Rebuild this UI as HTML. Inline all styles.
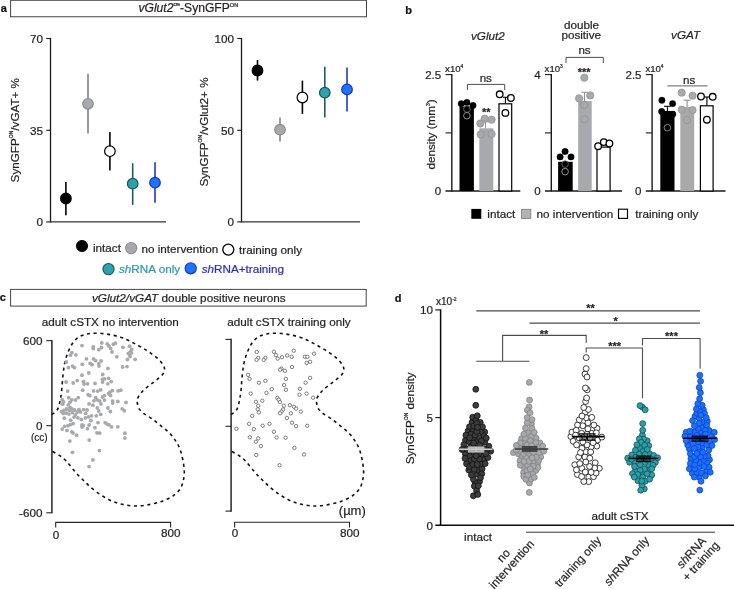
<!DOCTYPE html>
<html><head><meta charset="utf-8"><title>figure</title>
<style>
html,body{margin:0;padding:0;background:#fff;}
body{width:734px;height:589px;overflow:hidden;}
svg{display:block;font-family:"Liberation Sans",sans-serif;}
text{stroke-width:0.22px;paint-order:stroke;}
</style></head><body>
<svg width="734" height="589" viewBox="0 0 734 589">
<rect width="734" height="589" fill="#fff"/>
<g opacity="0.999">
<text x="0.80" y="11.60" font-size="11" text-anchor="start" fill="#111" stroke="#111" font-weight="bold" >a</text>
<rect x="10.60" y="0.30" width="355.90" height="16.45" fill="#fff" stroke="#444" stroke-width="1"/>
<text x="188.30" y="12.10" font-size="12.1" text-anchor="middle" fill="#231f20" stroke="#231f20" ><tspan font-style="italic">vGlut2</tspan><tspan baseline-shift="5.6" font-size="4.8">cre</tspan>-SynGFP<tspan baseline-shift="5.0" font-size="5.6">ON</tspan></text>
<line x1="50.50" y1="37.90" x2="50.50" y2="222.50" stroke="#1a1a1a" stroke-width="1.3" />
<line x1="46.20" y1="221.90" x2="166.00" y2="221.90" stroke="#333" stroke-width="1.2" />
<line x1="46.20" y1="38.50" x2="50.50" y2="38.50" stroke="#1a1a1a" stroke-width="1.1" />
<line x1="46.20" y1="130.30" x2="50.50" y2="130.30" stroke="#1a1a1a" stroke-width="1.1" />
<text x="43.00" y="42.70" font-size="11.7" text-anchor="end" fill="#231f20" stroke="#231f20" >70</text>
<text x="43.00" y="134.50" font-size="11.7" text-anchor="end" fill="#231f20" stroke="#231f20" >35</text>
<text x="43.00" y="226.10" font-size="11.7" text-anchor="end" fill="#231f20" stroke="#231f20" >0</text>
<text x="0.00" y="0.00" font-size="11.7" text-anchor="middle" fill="#231f20" stroke="#231f20" transform="translate(19.4,130.2) rotate(-90)">SynGFP<tspan baseline-shift="5.8" font-size="5.0">ON</tspan>/vGAT+ %</text>
<line x1="65.90" y1="182.00" x2="65.90" y2="215.20" stroke="#000" stroke-width="1.6" />
<circle cx="65.90" cy="198.50" r="5.3" fill="#000" stroke="#000" stroke-width="1.2"/>
<line x1="88.00" y1="73.80" x2="88.00" y2="133.50" stroke="#828282" stroke-width="1.6" />
<circle cx="88.00" cy="103.80" r="5.3" fill="#a7a9ac" stroke="#8a8c8e" stroke-width="1.2"/>
<line x1="109.90" y1="132.00" x2="109.90" y2="170.60" stroke="#000" stroke-width="1.6" />
<circle cx="109.90" cy="151.20" r="5.3" fill="#fff" stroke="#000" stroke-width="1.2"/>
<line x1="132.70" y1="163.20" x2="132.70" y2="204.90" stroke="#1f5c62" stroke-width="1.6" />
<circle cx="132.70" cy="183.70" r="5.3" fill="#2aa3ad" stroke="#1b5358" stroke-width="1.2"/>
<line x1="155.00" y1="162.30" x2="155.00" y2="202.70" stroke="#2233dd" stroke-width="1.6" />
<circle cx="155.00" cy="182.70" r="5.3" fill="#1a75ff" stroke="#1a30d0" stroke-width="1.2"/>
<line x1="241.50" y1="37.90" x2="241.50" y2="222.50" stroke="#1a1a1a" stroke-width="1.3" />
<line x1="237.20" y1="221.90" x2="360.00" y2="221.90" stroke="#333" stroke-width="1.2" />
<line x1="237.20" y1="38.50" x2="241.50" y2="38.50" stroke="#1a1a1a" stroke-width="1.1" />
<line x1="237.20" y1="130.30" x2="241.50" y2="130.30" stroke="#1a1a1a" stroke-width="1.1" />
<text x="234.00" y="42.70" font-size="11.7" text-anchor="end" fill="#231f20" stroke="#231f20" >100</text>
<text x="234.00" y="134.50" font-size="11.7" text-anchor="end" fill="#231f20" stroke="#231f20" >50</text>
<text x="234.00" y="226.10" font-size="11.7" text-anchor="end" fill="#231f20" stroke="#231f20" >0</text>
<text x="0.00" y="0.00" font-size="11.7" text-anchor="middle" fill="#231f20" stroke="#231f20" transform="translate(207.6,132) rotate(-90)">SynGFP<tspan baseline-shift="5.8" font-size="5.0">ON</tspan>/vGlut2+ %</text>
<line x1="257.50" y1="60.00" x2="257.50" y2="80.60" stroke="#000" stroke-width="1.6" />
<circle cx="257.50" cy="70.50" r="5.3" fill="#000" stroke="#000" stroke-width="1.2"/>
<line x1="280.00" y1="117.60" x2="280.00" y2="141.60" stroke="#828282" stroke-width="1.6" />
<circle cx="280.00" cy="129.70" r="5.3" fill="#a7a9ac" stroke="#8a8c8e" stroke-width="1.2"/>
<line x1="302.40" y1="80.60" x2="302.40" y2="113.90" stroke="#000" stroke-width="1.6" />
<circle cx="302.40" cy="97.50" r="5.3" fill="#fff" stroke="#000" stroke-width="1.2"/>
<line x1="324.80" y1="66.80" x2="324.80" y2="117.60" stroke="#1f5c62" stroke-width="1.6" />
<circle cx="324.80" cy="92.70" r="5.3" fill="#2aa3ad" stroke="#1b5358" stroke-width="1.2"/>
<line x1="347.00" y1="67.50" x2="347.00" y2="111.60" stroke="#2233dd" stroke-width="1.6" />
<circle cx="347.00" cy="89.40" r="5.3" fill="#1a75ff" stroke="#1a30d0" stroke-width="1.2"/>
<circle cx="82.00" cy="246.00" r="5.6" fill="#000" stroke="#000" stroke-width="0.9"/>
<text x="93.00" y="252.20" font-size="11.7" text-anchor="start" fill="#231f20" stroke="#231f20" >intact</text>
<circle cx="131.20" cy="248.10" r="5.6" fill="#a7a9ac" stroke="#8a8c8e" stroke-width="1.1"/>
<text x="141.50" y="252.70" font-size="11.7" text-anchor="start" fill="#231f20" stroke="#231f20" >no intervention</text>
<circle cx="228.30" cy="249.60" r="5.5" fill="#fff" stroke="#000" stroke-width="1.3"/>
<text x="239.00" y="253.60" font-size="11.7" text-anchor="start" fill="#231f20" stroke="#231f20" >training only</text>
<circle cx="108.50" cy="269.10" r="5.6" fill="#2aa3ad" stroke="#1b5358" stroke-width="1.1"/>
<text x="119.00" y="273.00" font-size="11.7" text-anchor="start" fill="#2b9a9e" stroke="#2b9a9e" ><tspan font-style="italic">sh</tspan>RNA only</text>
<circle cx="190.70" cy="268.30" r="5.6" fill="#1a75ff" stroke="#1a30d0" stroke-width="1.1"/>
<text x="201.70" y="272.50" font-size="11.7" text-anchor="start" fill="#2a2ec4" stroke="#2a2ec4" ><tspan font-style="italic">sh</tspan>RNA+training</text>
<text x="405.20" y="13.60" font-size="11" text-anchor="start" fill="#111" stroke="#111" font-weight="bold" >b</text>
<text x="487.90" y="40.30" font-size="11.7" text-anchor="middle" fill="#231f20" stroke="#231f20" font-style="italic" >vGlut2</text>
<text x="581.50" y="28.80" font-size="11.7" text-anchor="middle" fill="#231f20" stroke="#231f20" >double</text>
<text x="581.20" y="39.40" font-size="11.7" text-anchor="middle" fill="#231f20" stroke="#231f20" >positive</text>
<text x="685.60" y="39.20" font-size="11.7" text-anchor="middle" fill="#231f20" stroke="#231f20" font-style="italic" >vGAT</text>
<line x1="451.80" y1="74.00" x2="451.80" y2="191.60" stroke="#1a1a1a" stroke-width="1.4" />
<line x1="445.50" y1="191.00" x2="520.30" y2="191.00" stroke="#1a1a1a" stroke-width="1.4" />
<line x1="445.50" y1="74.60" x2="451.80" y2="74.60" stroke="#1a1a1a" stroke-width="1.1" />
<line x1="445.50" y1="132.90" x2="451.80" y2="132.90" stroke="#1a1a1a" stroke-width="1.1" />
<text x="441.20" y="78.90" font-size="11.5" text-anchor="end" fill="#231f20" stroke="#231f20" >2.5</text>
<text x="441.20" y="195.20" font-size="11.5" text-anchor="end" fill="#231f20" stroke="#231f20" >0</text>
<text x="445.10" y="71.50" font-size="9.6" text-anchor="start" fill="#231f20" stroke="#231f20" >x10<tspan baseline-shift="3.6" font-size="4.8">4</tspan></text>
<text x="0.00" y="0.00" font-size="11.7" text-anchor="middle" fill="#231f20" stroke="#231f20" transform="translate(434.6,134.4) rotate(-90)">density (mm<tspan baseline-shift="5.4" font-size="5">3</tspan>)</text>
<rect x="459.50" y="106.80" width="14.40" height="84.20" fill="#000" stroke="none" stroke-width="0"/>
<line x1="466.90" y1="104.50" x2="466.90" y2="107.00" stroke="#000" stroke-width="1" />
<line x1="464.30" y1="104.50" x2="469.50" y2="104.50" stroke="#000" stroke-width="1" />
<rect x="479.30" y="128.30" width="14.00" height="62.70" fill="#a7a9ac" stroke="none" stroke-width="0"/>
<line x1="485.50" y1="121.80" x2="485.50" y2="128.30" stroke="#8e9092" stroke-width="1" />
<line x1="482.90" y1="121.80" x2="488.10" y2="121.80" stroke="#8e9092" stroke-width="1" />
<rect x="499.00" y="103.80" width="12.70" height="87.20" fill="#fff" stroke="#000" stroke-width="1.2"/>
<line x1="505.40" y1="97.30" x2="505.40" y2="103.40" stroke="#000" stroke-width="1.1" />
<line x1="503.00" y1="97.30" x2="507.80" y2="97.30" stroke="#000" stroke-width="1.1" />
<circle cx="461.30" cy="103.80" r="3.2" fill="#000" stroke="#000" stroke-width="0.4"/>
<circle cx="466.90" cy="102.40" r="3.2" fill="#000" stroke="#000" stroke-width="0.4"/>
<circle cx="473.00" cy="105.50" r="3.2" fill="#000" stroke="#000" stroke-width="0.4"/>
<circle cx="466.90" cy="109.10" r="3.3000000000000003" fill="#000" stroke="#888" stroke-width="0.7"/>
<circle cx="466.90" cy="115.70" r="3.3000000000000003" fill="#000" stroke="#ccc" stroke-width="0.7"/>
<circle cx="484.80" cy="118.60" r="3.65" fill="#a7a9ac" stroke="#8e9092" stroke-width="0.7"/>
<circle cx="491.60" cy="119.70" r="3.65" fill="#a7a9ac" stroke="#8e9092" stroke-width="0.7"/>
<circle cx="480.30" cy="123.50" r="3.65" fill="#a7a9ac" stroke="#8e9092" stroke-width="0.7"/>
<circle cx="480.70" cy="134.40" r="3.65" fill="#a7a9ac" stroke="#8e9092" stroke-width="0.7"/>
<circle cx="491.60" cy="134.00" r="3.65" fill="#a7a9ac" stroke="#8e9092" stroke-width="0.7"/>
<circle cx="499.70" cy="94.30" r="3.3" fill="#fff" stroke="#000" stroke-width="1.3"/>
<circle cx="510.90" cy="98.00" r="3.3" fill="#fff" stroke="#000" stroke-width="1.3"/>
<circle cx="505.40" cy="112.90" r="3.3" fill="#fff" stroke="#000" stroke-width="1.3"/>
<path d="M467.4 90.1V84.4H504.7V90.1" fill="none" stroke="#4d4d4d" stroke-width="1"/>
<text x="485.80" y="81.70" font-size="11.6" text-anchor="middle" fill="#231f20" stroke="#231f20" >ns</text>
<text x="486.20" y="115.80" font-size="11" text-anchor="middle" fill="#231f20" stroke="#231f20" font-weight="bold" >**</text>
<line x1="551.30" y1="74.00" x2="551.30" y2="191.60" stroke="#1a1a1a" stroke-width="1.4" />
<line x1="545.00" y1="191.00" x2="622.00" y2="191.00" stroke="#1a1a1a" stroke-width="1.4" />
<line x1="545.00" y1="74.60" x2="551.30" y2="74.60" stroke="#1a1a1a" stroke-width="1.1" />
<line x1="545.00" y1="132.90" x2="551.30" y2="132.90" stroke="#1a1a1a" stroke-width="1.1" />
<text x="540.70" y="78.90" font-size="11.5" text-anchor="end" fill="#231f20" stroke="#231f20" >4</text>
<text x="540.70" y="195.20" font-size="11.5" text-anchor="end" fill="#231f20" stroke="#231f20" >0</text>
<text x="544.60" y="71.50" font-size="9.6" text-anchor="start" fill="#231f20" stroke="#231f20" >x10<tspan baseline-shift="3.6" font-size="4.8">3</tspan></text>
<rect x="558.10" y="161.80" width="14.60" height="29.20" fill="#000" stroke="none" stroke-width="0"/>
<line x1="565.10" y1="156.80" x2="565.10" y2="161.80" stroke="#ddd" stroke-width="0.8" />
<line x1="562.70" y1="156.80" x2="567.50" y2="156.80" stroke="#ddd" stroke-width="0.8" />
<rect x="578.20" y="101.10" width="13.50" height="89.90" fill="#a7a9ac" stroke="none" stroke-width="0"/>
<line x1="584.50" y1="92.30" x2="584.50" y2="101.10" stroke="#8e9092" stroke-width="1" />
<line x1="581.30" y1="92.30" x2="587.70" y2="92.30" stroke="#8e9092" stroke-width="1" />
<rect x="597.00" y="147.10" width="13.10" height="43.90" fill="#fff" stroke="#000" stroke-width="1.2"/>
<circle cx="565.10" cy="151.50" r="3.2" fill="#000" stroke="#000" stroke-width="0.4"/>
<circle cx="560.10" cy="156.90" r="3.2" fill="#000" stroke="#000" stroke-width="0.4"/>
<circle cx="571.00" cy="156.90" r="3.2" fill="#000" stroke="#000" stroke-width="0.4"/>
<circle cx="565.10" cy="164.10" r="3.3000000000000003" fill="#000" stroke="#777" stroke-width="0.7"/>
<circle cx="565.10" cy="171.60" r="3.3000000000000003" fill="#000" stroke="#ccc" stroke-width="0.7"/>
<circle cx="584.30" cy="77.70" r="3.65" fill="#a7a9ac" stroke="#8e9092" stroke-width="0.7"/>
<circle cx="579.10" cy="98.40" r="3.65" fill="#a7a9ac" stroke="#8e9092" stroke-width="0.7"/>
<circle cx="590.20" cy="95.40" r="3.65" fill="#a7a9ac" stroke="#8e9092" stroke-width="0.7"/>
<circle cx="584.10" cy="104.90" r="3.65" fill="#a7a9ac" stroke="#8e9092" stroke-width="0.7"/>
<circle cx="584.50" cy="119.40" r="3.65" fill="#a7a9ac" stroke="#8e9092" stroke-width="0.7"/>
<circle cx="598.10" cy="146.20" r="3.3" fill="#fff" stroke="#000" stroke-width="1.3"/>
<circle cx="603.80" cy="142.10" r="3.3" fill="#fff" stroke="#000" stroke-width="1.3"/>
<circle cx="609.40" cy="143.50" r="3.3" fill="#fff" stroke="#000" stroke-width="1.3"/>
<path d="M566 63V57.4H603.3V63" fill="none" stroke="#4d4d4d" stroke-width="1"/>
<text x="584.50" y="54.30" font-size="11.6" text-anchor="middle" fill="#231f20" stroke="#231f20" >ns</text>
<text x="584.20" y="75.60" font-size="11" text-anchor="middle" fill="#231f20" stroke="#231f20" font-weight="bold" >***</text>
<line x1="652.10" y1="74.00" x2="652.10" y2="191.60" stroke="#1a1a1a" stroke-width="1.4" />
<line x1="645.80" y1="191.00" x2="725.50" y2="191.00" stroke="#1a1a1a" stroke-width="1.4" />
<line x1="645.80" y1="74.60" x2="652.10" y2="74.60" stroke="#1a1a1a" stroke-width="1.1" />
<line x1="645.80" y1="132.90" x2="652.10" y2="132.90" stroke="#1a1a1a" stroke-width="1.1" />
<text x="641.50" y="78.90" font-size="11.5" text-anchor="end" fill="#231f20" stroke="#231f20" >2.5</text>
<text x="641.50" y="195.20" font-size="11.5" text-anchor="end" fill="#231f20" stroke="#231f20" >0</text>
<text x="645.40" y="71.50" font-size="9.6" text-anchor="start" fill="#231f20" stroke="#231f20" >x10<tspan baseline-shift="3.6" font-size="4.8">4</tspan></text>
<rect x="660.30" y="111.00" width="14.20" height="80.00" fill="#000" stroke="none" stroke-width="0"/>
<line x1="667.40" y1="106.30" x2="667.40" y2="111.00" stroke="#000" stroke-width="1.1" />
<line x1="664.00" y1="106.30" x2="670.80" y2="106.30" stroke="#000" stroke-width="1.1" />
<rect x="680.30" y="107.00" width="13.90" height="84.00" fill="#a7a9ac" stroke="none" stroke-width="0"/>
<line x1="687.10" y1="100.20" x2="687.10" y2="107.00" stroke="#8e9092" stroke-width="1.1" />
<line x1="683.50" y1="100.20" x2="690.70" y2="100.20" stroke="#8e9092" stroke-width="1.1" />
<rect x="700.40" y="105.80" width="12.70" height="85.20" fill="#fff" stroke="#000" stroke-width="1.2"/>
<line x1="706.90" y1="97.00" x2="706.90" y2="105.40" stroke="#000" stroke-width="1.1" />
<line x1="704.50" y1="97.00" x2="709.30" y2="97.00" stroke="#000" stroke-width="1.1" />
<circle cx="661.90" cy="100.20" r="3.2" fill="#000" stroke="#000" stroke-width="0.4"/>
<circle cx="672.60" cy="103.60" r="3.2" fill="#000" stroke="#000" stroke-width="0.4"/>
<circle cx="661.70" cy="111.50" r="3.2" fill="#000" stroke="#000" stroke-width="0.4"/>
<circle cx="672.80" cy="114.20" r="3.2" fill="#000" stroke="#000" stroke-width="0.4"/>
<circle cx="667.40" cy="127.70" r="3.3000000000000003" fill="#000" stroke="#bbb" stroke-width="0.7"/>
<circle cx="681.70" cy="92.70" r="3.65" fill="#a7a9ac" stroke="#8e9092" stroke-width="0.7"/>
<circle cx="692.60" cy="95.70" r="3.65" fill="#a7a9ac" stroke="#8e9092" stroke-width="0.7"/>
<circle cx="681.70" cy="109.70" r="3.65" fill="#a7a9ac" stroke="#8e9092" stroke-width="0.7"/>
<circle cx="692.60" cy="110.10" r="3.65" fill="#a7a9ac" stroke="#8e9092" stroke-width="0.7"/>
<circle cx="687.10" cy="120.00" r="3.65" fill="#a7a9ac" stroke="#8e9092" stroke-width="0.7"/>
<circle cx="701.00" cy="96.50" r="3.3" fill="#fff" stroke="#000" stroke-width="1.3"/>
<circle cx="712.70" cy="96.80" r="3.3" fill="#fff" stroke="#000" stroke-width="1.3"/>
<circle cx="706.90" cy="119.70" r="3.3" fill="#fff" stroke="#000" stroke-width="1.3"/>
<line x1="667.40" y1="85.90" x2="707.60" y2="85.90" stroke="#808080" stroke-width="1.2" />
<text x="689.10" y="83.80" font-size="11.6" text-anchor="middle" fill="#231f20" stroke="#231f20" >ns</text>
<rect x="471.30" y="208.90" width="10.00" height="9.90" fill="#000" stroke="none" stroke-width="0"/>
<text x="487.30" y="217.80" font-size="11.7" text-anchor="start" fill="#231f20" stroke="#231f20" >intact</text>
<rect x="521.60" y="209.30" width="9.20" height="9.20" fill="#b1b2b5" stroke="#7a7b7d" stroke-width="0.8"/>
<text x="536.60" y="217.80" font-size="11.7" text-anchor="start" fill="#231f20" stroke="#231f20" >no intervention</text>
<rect x="618.50" y="209.20" width="9.00" height="9.20" fill="#fff" stroke="#000" stroke-width="1.15"/>
<text x="635.30" y="217.80" font-size="11.7" text-anchor="start" fill="#231f20" stroke="#231f20" >training only</text>
<text x="-0.20" y="301.00" font-size="11" text-anchor="start" fill="#111" stroke="#111" font-weight="bold" >c</text>
<rect x="10.60" y="289.40" width="355.60" height="16.70" fill="#fff" stroke="#444" stroke-width="1"/>
<text x="188.80" y="301.60" font-size="11.75" text-anchor="middle" fill="#231f20" stroke="#231f20" ><tspan font-style="italic">vGlut2/vGAT</tspan> double positive neurons</text>
<text x="110.30" y="326.00" font-size="11.7" text-anchor="middle" fill="#231f20" stroke="#231f20" >adult cSTX no intervention</text>
<text x="289.00" y="326.00" font-size="11.7" text-anchor="middle" fill="#231f20" stroke="#231f20" >adult cSTX training only</text>
<line x1="51.90" y1="340.10" x2="51.90" y2="513.35" stroke="#262626" stroke-width="1.5" />
<line x1="46.30" y1="340.65" x2="51.90" y2="340.65" stroke="#262626" stroke-width="1.1" />
<line x1="46.30" y1="425.70" x2="51.90" y2="425.70" stroke="#262626" stroke-width="1.1" />
<line x1="46.30" y1="512.80" x2="51.90" y2="512.80" stroke="#262626" stroke-width="1.1" />
<line x1="231.10" y1="338.85" x2="231.10" y2="511.65" stroke="#262626" stroke-width="1.5" />
<line x1="225.50" y1="339.40" x2="231.10" y2="339.40" stroke="#262626" stroke-width="1.1" />
<line x1="225.50" y1="426.30" x2="231.10" y2="426.30" stroke="#262626" stroke-width="1.1" />
<line x1="225.50" y1="511.10" x2="231.10" y2="511.10" stroke="#262626" stroke-width="1.1" />
<text x="42.50" y="345.30" font-size="11.7" text-anchor="end" fill="#231f20" stroke="#231f20" >600</text>
<text x="42.50" y="430.00" font-size="11.7" text-anchor="end" fill="#231f20" stroke="#231f20" >0</text>
<text x="47.70" y="440.70" font-size="10" text-anchor="end" fill="#231f20" stroke="#231f20" >(cc)</text>
<text x="42.50" y="516.80" font-size="11.7" text-anchor="end" fill="#231f20" stroke="#231f20" >-600</text>
<path d="M55.7 527.6V522.4H170.6V527.6" fill="none" stroke="#262626" stroke-width="1.1"/>
<text x="56.00" y="539.40" font-size="11.7" text-anchor="middle" fill="#231f20" stroke="#231f20" >0</text>
<text x="170.80" y="537.30" font-size="11.7" text-anchor="middle" fill="#231f20" stroke="#231f20" >800</text>
<path d="M234.6 527.6V522.3H349.5V527.6" fill="none" stroke="#262626" stroke-width="1.1"/>
<text x="234.90" y="537.20" font-size="11.7" text-anchor="middle" fill="#231f20" stroke="#231f20" >0</text>
<text x="349.70" y="537.40" font-size="11.7" text-anchor="middle" fill="#231f20" stroke="#231f20" >800</text>
<text x="352.30" y="515.30" font-size="13" text-anchor="middle" fill="#231f20" stroke="#231f20" >(µm)</text>
<path d="M51.8 414.6C52.8 413.8 56.1 411.9 57.5 409.5C58.9 407.1 59.5 403.7 60.2 400.4C60.9 397.1 61.3 393.6 61.8 389.5C62.2 385.4 62.4 380.1 62.9 375.9C63.4 371.6 63.8 367.6 64.5 364.0C65.2 360.4 66.0 357.8 67.2 354.5C68.4 351.2 69.9 347.4 71.8 344.5C73.7 341.6 75.9 339.1 78.5 337.3C81.1 335.6 83.9 334.7 87.2 334.0C90.5 333.3 94.3 333.1 98.1 333.2C101.9 333.3 106.2 333.9 110.0 334.6C113.8 335.3 118.2 336.5 121.2 337.4C124.2 338.3 125.6 339.2 127.7 340.1C129.8 341.1 131.8 342.1 133.7 343.1C135.6 344.1 137.1 344.9 139.0 346.0C140.9 347.1 143.1 348.2 145.0 349.4C146.9 350.5 148.4 351.6 150.3 352.9C152.2 354.2 154.5 355.8 156.3 357.3C158.1 358.8 159.7 360.3 161.0 361.9C162.3 363.5 163.4 365.4 164.0 366.8C164.6 368.2 164.7 368.9 164.5 370.2C164.3 371.5 163.7 373.0 162.6 374.4C161.5 375.8 159.7 377.3 158.0 378.7C156.3 380.1 154.5 381.5 152.7 382.9C150.9 384.3 149.0 385.6 147.3 387.0C145.6 388.4 144.0 389.7 142.6 391.2C141.2 392.7 139.7 394.5 138.8 396.0C137.9 397.5 137.4 398.8 137.2 400.0C137.0 401.2 137.2 402.1 137.4 403.5C137.7 404.9 137.7 406.6 138.7 408.2C139.7 409.8 141.2 411.4 143.6 413.3C145.9 415.2 149.8 417.2 152.8 419.4C155.9 421.6 159.0 424.2 161.9 426.6C164.8 429.0 167.7 431.2 170.1 433.7C172.5 436.2 174.5 439.1 176.2 441.8C177.9 444.5 179.2 446.9 180.3 450.0C181.4 453.1 182.2 456.6 182.9 460.2C183.6 463.8 184.2 468.0 184.3 471.4C184.4 474.8 184.0 477.6 183.3 480.5C182.6 483.4 182.0 486.1 180.3 488.7C178.6 491.2 176.0 493.8 173.1 495.8C170.2 497.8 166.6 499.5 162.9 500.9C159.2 502.3 155.1 503.4 150.7 504.3C146.3 505.2 141.2 506.0 136.5 506.0C131.8 506.0 126.8 505.4 122.2 504.3C117.6 503.2 113.5 501.9 109.0 499.7C104.5 497.5 99.5 494.0 95.4 491.0C91.3 488.0 87.9 484.7 84.5 481.5C81.1 478.3 78.2 475.2 75.2 471.8C72.2 468.4 68.7 463.7 66.3 461.1C63.9 458.6 62.8 457.9 60.9 456.5C59.0 455.1 56.3 453.6 54.8 452.7C53.3 451.8 52.3 451.5 51.8 451.3" fill="none" stroke="#111" stroke-width="1.6" stroke-dasharray="3.1 3.6"/>
<path d="M51.8 414.6C52.8 413.8 56.1 411.9 57.5 409.5C58.9 407.1 59.5 403.7 60.2 400.4C60.9 397.1 61.3 393.6 61.8 389.5C62.2 385.4 62.4 380.1 62.9 375.9C63.4 371.6 63.8 367.6 64.5 364.0C65.2 360.4 66.0 357.8 67.2 354.5C68.4 351.2 69.9 347.4 71.8 344.5C73.7 341.6 75.9 339.1 78.5 337.3C81.1 335.6 83.9 334.7 87.2 334.0C90.5 333.3 94.3 333.1 98.1 333.2C101.9 333.3 106.2 333.9 110.0 334.6C113.8 335.3 118.2 336.5 121.2 337.4C124.2 338.3 125.6 339.2 127.7 340.1C129.8 341.1 131.8 342.1 133.7 343.1C135.6 344.1 137.1 344.9 139.0 346.0C140.9 347.1 143.1 348.2 145.0 349.4C146.9 350.5 148.4 351.6 150.3 352.9C152.2 354.2 154.5 355.8 156.3 357.3C158.1 358.8 159.7 360.3 161.0 361.9C162.3 363.5 163.4 365.4 164.0 366.8C164.6 368.2 164.7 368.9 164.5 370.2C164.3 371.5 163.7 373.0 162.6 374.4C161.5 375.8 159.7 377.3 158.0 378.7C156.3 380.1 154.5 381.5 152.7 382.9C150.9 384.3 149.0 385.6 147.3 387.0C145.6 388.4 144.0 389.7 142.6 391.2C141.2 392.7 139.7 394.5 138.8 396.0C137.9 397.5 137.4 398.8 137.2 400.0C137.0 401.2 137.2 402.1 137.4 403.5C137.7 404.9 137.7 406.6 138.7 408.2C139.7 409.8 141.2 411.4 143.6 413.3C145.9 415.2 149.8 417.2 152.8 419.4C155.9 421.6 159.0 424.2 161.9 426.6C164.8 429.0 167.7 431.2 170.1 433.7C172.5 436.2 174.5 439.1 176.2 441.8C177.9 444.5 179.2 446.9 180.3 450.0C181.4 453.1 182.2 456.6 182.9 460.2C183.6 463.8 184.2 468.0 184.3 471.4C184.4 474.8 184.0 477.6 183.3 480.5C182.6 483.4 182.0 486.1 180.3 488.7C178.6 491.2 176.0 493.8 173.1 495.8C170.2 497.8 166.6 499.5 162.9 500.9C159.2 502.3 155.1 503.4 150.7 504.3C146.3 505.2 141.2 506.0 136.5 506.0C131.8 506.0 126.8 505.4 122.2 504.3C117.6 503.2 113.5 501.9 109.0 499.7C104.5 497.5 99.5 494.0 95.4 491.0C91.3 488.0 87.9 484.7 84.5 481.5C81.1 478.3 78.2 475.2 75.2 471.8C72.2 468.4 68.7 463.7 66.3 461.1C63.9 458.6 62.8 457.9 60.9 456.5C59.0 455.1 56.3 453.6 54.8 452.7C53.3 451.8 52.3 451.5 51.8 451.3" transform="translate(179.3,0)" fill="none" stroke="#111" stroke-width="1.6" stroke-dasharray="3.1 3.6"/>
<g fill="#a7a9ac">
<circle cx="82.0" cy="345.6" r="1.9"/>
<circle cx="93.3" cy="347.0" r="1.9"/>
<circle cx="93.3" cy="348.6" r="1.9"/>
<circle cx="101.8" cy="342.9" r="1.9"/>
<circle cx="101.5" cy="347.5" r="1.9"/>
<circle cx="98.8" cy="349.7" r="1.9"/>
<circle cx="107.2" cy="343.9" r="1.9"/>
<circle cx="108.9" cy="345.9" r="1.9"/>
<circle cx="110.6" cy="348.4" r="1.9"/>
<circle cx="112" cy="352" r="1.9"/>
<circle cx="113.4" cy="344.3" r="1.9"/>
<circle cx="115.4" cy="343.2" r="1.9"/>
<circle cx="122.9" cy="347.3" r="1.9"/>
<circle cx="129.7" cy="346.2" r="1.9"/>
<circle cx="131.7" cy="349.3" r="1.9"/>
<circle cx="130.4" cy="352" r="1.9"/>
<circle cx="129" cy="354.1" r="1.9"/>
<circle cx="130.1" cy="356.5" r="1.9"/>
<circle cx="127.4" cy="359.5" r="1.9"/>
<circle cx="135.1" cy="359.3" r="1.9"/>
<circle cx="116.8" cy="356.8" r="1.9"/>
<circle cx="71.8" cy="352.7" r="1.9"/>
<circle cx="70.4" cy="355.2" r="1.9"/>
<circle cx="75.9" cy="354.8" r="1.9"/>
<circle cx="86.5" cy="358.8" r="1.9"/>
<circle cx="93.6" cy="358.8" r="1.9"/>
<circle cx="95.6" cy="360.6" r="1.9"/>
<circle cx="101.1" cy="360.9" r="1.9"/>
<circle cx="98.8" cy="363.6" r="1.9"/>
<circle cx="99" cy="366.1" r="1.9"/>
<circle cx="90.2" cy="363.3" r="1.9"/>
<circle cx="92" cy="364.7" r="1.9"/>
<circle cx="82.3" cy="364.3" r="1.9"/>
<circle cx="66.3" cy="362" r="1.9"/>
<circle cx="68.4" cy="367.7" r="1.9"/>
<circle cx="72.5" cy="366.1" r="1.9"/>
<circle cx="74.5" cy="367.7" r="1.9"/>
<circle cx="107.9" cy="368.4" r="1.9"/>
<circle cx="122.6" cy="367" r="1.9"/>
<circle cx="127" cy="366.6" r="1.9"/>
<circle cx="88.8" cy="372.9" r="1.9"/>
<circle cx="82" cy="375.2" r="1.9"/>
<circle cx="102.7" cy="374.5" r="1.9"/>
<circle cx="102.5" cy="379.3" r="1.9"/>
<circle cx="104.5" cy="378.9" r="1.9"/>
<circle cx="108.6" cy="378.3" r="1.9"/>
<circle cx="102.5" cy="382" r="1.9"/>
<circle cx="111.3" cy="381.6" r="1.9"/>
<circle cx="107.9" cy="383.8" r="1.9"/>
<circle cx="66.1" cy="382" r="1.9"/>
<circle cx="73.2" cy="383" r="1.9"/>
<circle cx="77.2" cy="380.6" r="1.9"/>
<circle cx="83.4" cy="381.6" r="1.9"/>
<circle cx="84.1" cy="384" r="1.9"/>
<circle cx="87.5" cy="383.8" r="1.9"/>
<circle cx="95" cy="383.4" r="1.9"/>
<circle cx="67.7" cy="391.1" r="1.9"/>
<circle cx="82.7" cy="390.2" r="1.9"/>
<circle cx="93.6" cy="390.9" r="1.9"/>
<circle cx="97.7" cy="391.1" r="1.9"/>
<circle cx="100.7" cy="389.9" r="1.9"/>
<circle cx="112.4" cy="390.6" r="1.9"/>
<circle cx="109.9" cy="392.2" r="1.9"/>
<circle cx="108.6" cy="393.6" r="1.9"/>
<circle cx="110.6" cy="395.6" r="1.9"/>
<circle cx="118.1" cy="390.9" r="1.9"/>
<circle cx="120.8" cy="390.2" r="1.9"/>
<circle cx="88.1" cy="394.7" r="1.9"/>
<circle cx="104.5" cy="395.6" r="1.9"/>
<circle cx="102.5" cy="397" r="1.9"/>
<circle cx="104.5" cy="400.1" r="1.9"/>
<circle cx="112.7" cy="401.1" r="1.9"/>
<circle cx="112.7" cy="403.1" r="1.9"/>
<circle cx="117.8" cy="401.5" r="1.9"/>
<circle cx="126" cy="402.4" r="1.9"/>
<circle cx="107.9" cy="408" r="1.9"/>
<circle cx="110.4" cy="411.5" r="1.9"/>
<circle cx="122.2" cy="408.8" r="1.9"/>
<circle cx="124.3" cy="410.7" r="1.9"/>
<circle cx="105.2" cy="422.7" r="1.9"/>
<circle cx="107.2" cy="424.1" r="1.9"/>
<circle cx="108.9" cy="424.8" r="1.9"/>
<circle cx="111.6" cy="426.8" r="1.9"/>
<circle cx="117.8" cy="426.8" r="1.9"/>
<circle cx="76.6" cy="435.2" r="1.9"/>
<circle cx="124.9" cy="433.2" r="1.9"/>
<circle cx="124.9" cy="438.1" r="1.9"/>
<circle cx="69.8" cy="441.1" r="1.9"/>
<circle cx="89.2" cy="440.1" r="1.9"/>
<circle cx="72.5" cy="452.3" r="1.9"/>
<circle cx="99.5" cy="450.6" r="1.9"/>
<circle cx="92.9" cy="459.9" r="1.9"/>
<circle cx="89.1" cy="466.6" r="1.9"/>
<circle cx="62.2" cy="399.8" r="1.9"/>
<circle cx="63.6" cy="401.8" r="1.9"/>
<circle cx="62.6" cy="404.2" r="1.9"/>
<circle cx="68.7" cy="397.7" r="1.9"/>
<circle cx="71.8" cy="399.8" r="1.9"/>
<circle cx="75.5" cy="400.1" r="1.9"/>
<circle cx="78.2" cy="397.7" r="1.9"/>
<circle cx="70.1" cy="402.2" r="1.9"/>
<circle cx="68.3" cy="404.9" r="1.9"/>
<circle cx="70.1" cy="407.3" r="1.9"/>
<circle cx="61.5" cy="411.7" r="1.9"/>
<circle cx="63.9" cy="410.3" r="1.9"/>
<circle cx="66.6" cy="409.0" r="1.9"/>
<circle cx="69.4" cy="410.3" r="1.9"/>
<circle cx="71.8" cy="409.0" r="1.9"/>
<circle cx="74.5" cy="410.0" r="1.9"/>
<circle cx="77.2" cy="412.0" r="1.9"/>
<circle cx="78.9" cy="409.6" r="1.9"/>
<circle cx="80.6" cy="412.0" r="1.9"/>
<circle cx="83.7" cy="409.6" r="1.9"/>
<circle cx="87.1" cy="410.0" r="1.9"/>
<circle cx="63.2" cy="413.4" r="1.9"/>
<circle cx="66.3" cy="413.1" r="1.9"/>
<circle cx="69.0" cy="414.1" r="1.9"/>
<circle cx="72.4" cy="412.7" r="1.9"/>
<circle cx="75.5" cy="414.8" r="1.9"/>
<circle cx="85.7" cy="413.4" r="1.9"/>
<circle cx="64.3" cy="418.2" r="1.9"/>
<circle cx="74.1" cy="417.1" r="1.9"/>
<circle cx="77.9" cy="417.8" r="1.9"/>
<circle cx="81.3" cy="419.5" r="1.9"/>
<circle cx="70.7" cy="420.2" r="1.9"/>
<circle cx="85.4" cy="417.8" r="1.9"/>
<circle cx="88.4" cy="416.8" r="1.9"/>
<circle cx="91.5" cy="415.8" r="1.9"/>
<circle cx="96.3" cy="415.8" r="1.9"/>
<circle cx="100.7" cy="414.4" r="1.9"/>
<circle cx="90.8" cy="420.5" r="1.9"/>
<circle cx="73.1" cy="423.6" r="1.9"/>
<circle cx="70.4" cy="424.6" r="1.9"/>
<circle cx="68.0" cy="425.7" r="1.9"/>
<circle cx="64.6" cy="426.3" r="1.9"/>
<circle cx="62.2" cy="429.1" r="1.9"/>
<circle cx="67.0" cy="430.4" r="1.9"/>
<circle cx="71.8" cy="431.8" r="1.9"/>
<circle cx="73.1" cy="433.1" r="1.9"/>
<circle cx="82.0" cy="425.0" r="1.9"/>
<circle cx="83.3" cy="425.7" r="1.9"/>
<circle cx="82.0" cy="427.0" r="1.9"/>
<circle cx="89.1" cy="425.0" r="1.9"/>
<circle cx="87.4" cy="428.7" r="1.9"/>
<circle cx="94.9" cy="427.7" r="1.9"/>
<circle cx="98.0" cy="422.6" r="1.9"/>
<circle cx="89.1" cy="403.9" r="1.9"/>
<circle cx="92.9" cy="405.2" r="1.9"/>
<circle cx="89.8" cy="395.7" r="1.9"/>
<circle cx="95.6" cy="397.7" r="1.9"/>
<circle cx="93.9" cy="400.8" r="1.9"/>
<circle cx="97.3" cy="399.8" r="1.9"/>
<circle cx="99.7" cy="401.1" r="1.9"/>
<circle cx="101.0" cy="403.9" r="1.9"/>
<circle cx="97.3" cy="407.9" r="1.9"/>
<circle cx="98.7" cy="411.0" r="1.9"/>
<circle cx="97.0" cy="432.8" r="1.9"/>
<circle cx="99.7" cy="433.1" r="1.9"/>
<circle cx="131.5" cy="352.9" r="1.9"/>
<circle cx="128.4" cy="353.3" r="1.9"/>
</g>
<g fill="#fff" stroke="#3a3a3a" stroke-width="0.65">
<circle cx="256.8" cy="352" r="1.7"/>
<circle cx="258.2" cy="357.9" r="1.7"/>
<circle cx="256.6" cy="359.8" r="1.7"/>
<circle cx="265.4" cy="357.9" r="1.7"/>
<circle cx="263.7" cy="359.9" r="1.7"/>
<circle cx="273.9" cy="351.8" r="1.7"/>
<circle cx="275.9" cy="355.2" r="1.7"/>
<circle cx="277.7" cy="358.6" r="1.7"/>
<circle cx="282" cy="357.2" r="1.7"/>
<circle cx="287.2" cy="355.4" r="1.7"/>
<circle cx="291.7" cy="356.8" r="1.7"/>
<circle cx="293.8" cy="350.7" r="1.7"/>
<circle cx="304.9" cy="356.8" r="1.7"/>
<circle cx="307.4" cy="356.8" r="1.7"/>
<circle cx="314.1" cy="353.7" r="1.7"/>
<circle cx="306.7" cy="362.9" r="1.7"/>
<circle cx="310.1" cy="361.8" r="1.7"/>
<circle cx="292" cy="367" r="1.7"/>
<circle cx="281.5" cy="368.7" r="1.7"/>
<circle cx="280.1" cy="369.7" r="1.7"/>
<circle cx="284.9" cy="370.8" r="1.7"/>
<circle cx="248.1" cy="374.9" r="1.7"/>
<circle cx="249.5" cy="378.9" r="1.7"/>
<circle cx="258.9" cy="382.7" r="1.7"/>
<circle cx="265.4" cy="380.9" r="1.7"/>
<circle cx="285.9" cy="378.9" r="1.7"/>
<circle cx="284.1" cy="385.1" r="1.7"/>
<circle cx="285.9" cy="389.8" r="1.7"/>
<circle cx="271.8" cy="389.2" r="1.7"/>
<circle cx="266.5" cy="392.9" r="1.7"/>
<circle cx="250.7" cy="393.6" r="1.7"/>
<circle cx="310.1" cy="377.9" r="1.7"/>
<circle cx="305.6" cy="382.7" r="1.7"/>
<circle cx="299.9" cy="388.8" r="1.7"/>
<circle cx="299.5" cy="394.7" r="1.7"/>
<circle cx="306.6" cy="393.6" r="1.7"/>
<circle cx="313.1" cy="397.7" r="1.7"/>
<circle cx="277.3" cy="397.9" r="1.7"/>
<circle cx="278.8" cy="399.7" r="1.7"/>
<circle cx="280" cy="402.2" r="1.7"/>
<circle cx="262.3" cy="400.7" r="1.7"/>
<circle cx="255.9" cy="401.8" r="1.7"/>
<circle cx="258.2" cy="405.8" r="1.7"/>
<circle cx="257.7" cy="409.3" r="1.7"/>
<circle cx="258.9" cy="412.4" r="1.7"/>
<circle cx="283.8" cy="405.8" r="1.7"/>
<circle cx="283.1" cy="409.5" r="1.7"/>
<circle cx="281.5" cy="411.6" r="1.7"/>
<circle cx="280.1" cy="413.3" r="1.7"/>
<circle cx="289.9" cy="405.2" r="1.7"/>
<circle cx="294" cy="406.8" r="1.7"/>
<circle cx="296.1" cy="408.6" r="1.7"/>
<circle cx="300.8" cy="411.6" r="1.7"/>
<circle cx="290.9" cy="413.3" r="1.7"/>
<circle cx="252.2" cy="415.9" r="1.7"/>
<circle cx="286.9" cy="417.9" r="1.7"/>
<circle cx="249.1" cy="423.8" r="1.7"/>
<circle cx="262.7" cy="425.7" r="1.7"/>
<circle cx="269.5" cy="423.8" r="1.7"/>
<circle cx="292" cy="422.7" r="1.7"/>
<circle cx="296.1" cy="426.1" r="1.7"/>
<circle cx="307.2" cy="425.8" r="1.7"/>
<circle cx="236.4" cy="428.8" r="1.7"/>
<circle cx="253.8" cy="429.1" r="1.7"/>
<circle cx="273.9" cy="431.8" r="1.7"/>
<circle cx="249.8" cy="437.3" r="1.7"/>
<circle cx="258.2" cy="438.4" r="1.7"/>
<circle cx="255.9" cy="441.8" r="1.7"/>
<circle cx="276.6" cy="437.4" r="1.7"/>
<circle cx="285.6" cy="437.7" r="1.7"/>
<circle cx="260.9" cy="446.1" r="1.7"/>
<circle cx="294.4" cy="447.9" r="1.7"/>
<circle cx="256.2" cy="455.1" r="1.7"/>
<circle cx="304" cy="454.5" r="1.7"/>
<circle cx="279.5" cy="465.2" r="1.7"/>
</g>
<text x="394.80" y="302.00" font-size="11" text-anchor="start" fill="#111" stroke="#111" font-weight="bold" >d</text>
<line x1="440.60" y1="309.35" x2="440.60" y2="525.90" stroke="#0a0a0a" stroke-width="1.5" />
<line x1="435.30" y1="525.30" x2="734.00" y2="525.30" stroke="#0a0a0a" stroke-width="1.5" />
<line x1="435.30" y1="309.90" x2="440.60" y2="309.90" stroke="#0a0a0a" stroke-width="1.1" />
<text x="433.10" y="313.70" font-size="11.7" text-anchor="end" fill="#231f20" stroke="#231f20" >10</text>
<line x1="435.30" y1="417.60" x2="440.60" y2="417.60" stroke="#0a0a0a" stroke-width="1.1" />
<text x="433.10" y="421.50" font-size="11.7" text-anchor="end" fill="#231f20" stroke="#231f20" >5</text>
<text x="433.10" y="529.60" font-size="11.7" text-anchor="end" fill="#231f20" stroke="#231f20" >0</text>
<text x="435.90" y="304.90" font-size="10.1" text-anchor="start" fill="#231f20" stroke="#231f20" >x10<tspan baseline-shift="3.9" font-size="5">-2</tspan></text>
<text x="0.00" y="0.00" font-size="11.7" text-anchor="middle" fill="#231f20" stroke="#231f20" transform="translate(414.4,418.4) rotate(-90)">SynGFP<tspan baseline-shift="5.8" font-size="5.0">ON</tspan> density</text>
<line x1="476.30" y1="310.80" x2="700.10" y2="310.80" stroke="#4d4d4d" stroke-width="1.2" />
<line x1="529.50" y1="323.20" x2="700.10" y2="323.20" stroke="#4d4d4d" stroke-width="1.2" />
<path d="M476.3 361.3H529.5M502.6 361.3V335.4H586.2V342.7" fill="none" stroke="#4d4d4d" stroke-width="1.1"/>
<path d="M586.2 352.5V348H642.5V398.2" fill="none" stroke="#4d4d4d" stroke-width="1.1"/>
<path d="M642.5 345.5V338.5H700.1V368.7" fill="none" stroke="#4d4d4d" stroke-width="1.1"/>
<text x="590.50" y="312.20" font-size="11" text-anchor="middle" fill="#231f20" stroke="#231f20" font-weight="bold" >**</text>
<text x="615.60" y="325.40" font-size="11" text-anchor="middle" fill="#231f20" stroke="#231f20" font-weight="bold" >*</text>
<text x="544.00" y="338.40" font-size="11" text-anchor="middle" fill="#231f20" stroke="#231f20" font-weight="bold" >**</text>
<text x="614.60" y="350.20" font-size="11" text-anchor="middle" fill="#231f20" stroke="#231f20" font-weight="bold" >***</text>
<text x="671.50" y="339.70" font-size="11" text-anchor="middle" fill="#231f20" stroke="#231f20" font-weight="bold" >***</text>
<g fill="#3d3d3d" stroke="#0d0d0d" stroke-width="0.75">
<circle cx="479.5" cy="481.6" r="2.95"/>
<circle cx="477.2" cy="474.1" r="2.95"/>
<circle cx="472.1" cy="422.1" r="2.95"/>
<circle cx="478.3" cy="470.2" r="2.95"/>
<circle cx="470.0" cy="451.6" r="2.95"/>
<circle cx="468.1" cy="431.0" r="2.95"/>
<circle cx="482.4" cy="455.6" r="2.95"/>
<circle cx="473.0" cy="430.7" r="2.95"/>
<circle cx="465.5" cy="440.3" r="2.95"/>
<circle cx="465.3" cy="453.7" r="2.95"/>
<circle cx="469.7" cy="456.5" r="2.95"/>
<circle cx="475.6" cy="448.0" r="2.95"/>
<circle cx="475.1" cy="482.4" r="2.95"/>
<circle cx="474.2" cy="469.4" r="2.95"/>
<circle cx="473.7" cy="439.1" r="2.95"/>
<circle cx="468.8" cy="470.0" r="2.95"/>
<circle cx="472.7" cy="417.2" r="2.95"/>
<circle cx="482.1" cy="468.8" r="2.95"/>
<circle cx="481.2" cy="463.9" r="2.95"/>
<circle cx="469.5" cy="426.7" r="2.95"/>
<circle cx="484.2" cy="459.5" r="2.95"/>
<circle cx="473.8" cy="426.0" r="2.95"/>
<circle cx="470.8" cy="460.7" r="2.95"/>
<circle cx="475.8" cy="389.3" r="2.95"/>
<circle cx="484.7" cy="432.0" r="2.95"/>
<circle cx="484.8" cy="442.0" r="2.95"/>
<circle cx="474.0" cy="452.5" r="2.95"/>
<circle cx="488.8" cy="446.3" r="2.95"/>
<circle cx="479.3" cy="459.1" r="2.95"/>
<circle cx="477.3" cy="441.2" r="2.95"/>
<circle cx="469.4" cy="441.8" r="2.95"/>
<circle cx="476.0" cy="420.0" r="2.95"/>
<circle cx="473.4" cy="495.8" r="2.95"/>
<circle cx="473.4" cy="479.2" r="2.95"/>
<circle cx="483.2" cy="435.3" r="2.95"/>
<circle cx="471.0" cy="434.1" r="2.95"/>
<circle cx="474.3" cy="459.0" r="2.95"/>
<circle cx="470.6" cy="446.8" r="2.95"/>
<circle cx="479.5" cy="449.3" r="2.95"/>
<circle cx="465.9" cy="435.1" r="2.95"/>
<circle cx="487.9" cy="457.5" r="2.95"/>
<circle cx="466.5" cy="463.7" r="2.95"/>
<circle cx="469.6" cy="437.8" r="2.95"/>
<circle cx="475.8" cy="405.3" r="2.95"/>
<circle cx="463.9" cy="444.6" r="2.95"/>
<circle cx="486.3" cy="438.1" r="2.95"/>
<circle cx="479.0" cy="453.3" r="2.95"/>
<circle cx="490.7" cy="451.3" r="2.95"/>
<circle cx="466.7" cy="449.2" r="2.95"/>
<circle cx="481.1" cy="431.3" r="2.95"/>
<circle cx="465.0" cy="458.4" r="2.95"/>
<circle cx="474.3" cy="486.1" r="2.95"/>
<circle cx="481.8" cy="473.7" r="2.95"/>
<circle cx="479.0" cy="437.5" r="2.95"/>
<circle cx="487.2" cy="449.8" r="2.95"/>
<circle cx="480.3" cy="422.4" r="2.95"/>
<circle cx="476.9" cy="423.6" r="2.95"/>
<circle cx="476.2" cy="455.7" r="2.95"/>
<circle cx="480.5" cy="477.7" r="2.95"/>
<circle cx="471.4" cy="474.9" r="2.95"/>
<circle cx="485.8" cy="453.6" r="2.95"/>
<circle cx="477.3" cy="415.8" r="2.95"/>
<circle cx="469.6" cy="466.4" r="2.95"/>
<circle cx="476.6" cy="490.4" r="2.95"/>
<circle cx="475.1" cy="435.1" r="2.95"/>
<circle cx="472.8" cy="464.4" r="2.95"/>
<circle cx="481.4" cy="441.1" r="2.95"/>
<circle cx="478.3" cy="485.8" r="2.95"/>
<circle cx="476.9" cy="431.5" r="2.95"/>
<circle cx="473.6" cy="443.1" r="2.95"/>
<circle cx="477.2" cy="464.5" r="2.95"/>
<circle cx="477.8" cy="494.4" r="2.95"/>
<circle cx="479.8" cy="445.2" r="2.95"/>
<circle cx="482.5" cy="426.9" r="2.95"/>
<circle cx="483.8" cy="448.6" r="2.95"/>
<circle cx="462.0" cy="449.5" r="2.95"/>
<circle cx="485.2" cy="463.6" r="2.95"/>
<circle cx="477.6" cy="427.3" r="2.95"/>
</g>
<rect x="467.90" y="447.00" width="16.40" height="5.00" fill="#a9a9a9" stroke="none" stroke-width="0"/>
<line x1="459.10" y1="449.30" x2="492.50" y2="449.30" stroke="#cfcfcf" stroke-width="1.6" />
<line x1="467.90" y1="447.00" x2="484.30" y2="447.00" stroke="#cfcfcf" stroke-width="1" />
<line x1="467.90" y1="452.00" x2="484.30" y2="452.00" stroke="#cfcfcf" stroke-width="1" />
<line x1="476.10" y1="447.00" x2="476.10" y2="452.00" stroke="#cfcfcf" stroke-width="1" />
<g fill="#a7a9ac" stroke="#7d7f81" stroke-width="0.75">
<circle cx="527.7" cy="432.6" r="2.95"/>
<circle cx="537.5" cy="463.7" r="2.95"/>
<circle cx="536.1" cy="438.1" r="2.95"/>
<circle cx="534.3" cy="448.2" r="2.95"/>
<circle cx="523.5" cy="472.6" r="2.95"/>
<circle cx="531.4" cy="424.0" r="2.95"/>
<circle cx="521.6" cy="438.6" r="2.95"/>
<circle cx="524.6" cy="441.9" r="2.95"/>
<circle cx="513.4" cy="452.6" r="2.95"/>
<circle cx="518.6" cy="454.1" r="2.95"/>
<circle cx="522.0" cy="457.1" r="2.95"/>
<circle cx="529.3" cy="382.4" r="2.95"/>
<circle cx="529.4" cy="482.9" r="2.95"/>
<circle cx="529.1" cy="455.1" r="2.95"/>
<circle cx="531.4" cy="436.3" r="2.95"/>
<circle cx="523.7" cy="476.2" r="2.95"/>
<circle cx="527.0" cy="445.0" r="2.95"/>
<circle cx="519.9" cy="460.8" r="2.95"/>
<circle cx="521.8" cy="447.4" r="2.95"/>
<circle cx="524.2" cy="467.5" r="2.95"/>
<circle cx="530.5" cy="440.7" r="2.95"/>
<circle cx="533.3" cy="461.8" r="2.95"/>
<circle cx="532.0" cy="419.6" r="2.95"/>
<circle cx="526.0" cy="457.7" r="2.95"/>
<circle cx="540.7" cy="457.0" r="2.95"/>
<circle cx="529.6" cy="400.0" r="2.95"/>
<circle cx="525.3" cy="438.3" r="2.95"/>
<circle cx="520.3" cy="465.2" r="2.95"/>
<circle cx="523.5" cy="453.7" r="2.95"/>
<circle cx="531.0" cy="479.0" r="2.95"/>
<circle cx="538.5" cy="452.8" r="2.95"/>
<circle cx="535.9" cy="470.5" r="2.95"/>
<circle cx="525.8" cy="479.3" r="2.95"/>
<circle cx="540.0" cy="442.9" r="2.95"/>
<circle cx="537.9" cy="467.4" r="2.95"/>
<circle cx="526.7" cy="470.3" r="2.95"/>
<circle cx="523.8" cy="434.2" r="2.95"/>
<circle cx="529.1" cy="406.9" r="2.95"/>
<circle cx="527.3" cy="410.2" r="2.95"/>
<circle cx="527.2" cy="422.7" r="2.95"/>
<circle cx="535.9" cy="442.6" r="2.95"/>
<circle cx="543.8" cy="451.2" r="2.95"/>
<circle cx="532.5" cy="473.9" r="2.95"/>
<circle cx="533.2" cy="466.2" r="2.95"/>
<circle cx="538.1" cy="447.5" r="2.95"/>
<circle cx="529.3" cy="492.4" r="2.95"/>
<circle cx="538.7" cy="460.3" r="2.95"/>
<circle cx="527.8" cy="465.5" r="2.95"/>
<circle cx="536.2" cy="457.2" r="2.95"/>
<circle cx="542.6" cy="446.1" r="2.95"/>
<circle cx="525.2" cy="450.4" r="2.95"/>
<circle cx="530.2" cy="469.0" r="2.95"/>
<circle cx="532.0" cy="428.4" r="2.95"/>
<circle cx="527.8" cy="475.1" r="2.95"/>
<circle cx="528.8" cy="461.3" r="2.95"/>
<circle cx="520.2" cy="442.9" r="2.95"/>
<circle cx="529.5" cy="450.2" r="2.95"/>
<circle cx="530.1" cy="412.8" r="2.95"/>
<circle cx="531.6" cy="445.8" r="2.95"/>
<circle cx="534.2" cy="432.5" r="2.95"/>
<circle cx="524.0" cy="461.5" r="2.95"/>
<circle cx="519.9" cy="450.6" r="2.95"/>
<circle cx="533.4" cy="452.1" r="2.95"/>
<circle cx="527.2" cy="417.6" r="2.95"/>
<circle cx="525.5" cy="428.0" r="2.95"/>
<circle cx="516.3" cy="450.1" r="2.95"/>
<circle cx="532.1" cy="457.9" r="2.95"/>
<circle cx="516.3" cy="445.5" r="2.95"/>
<circle cx="534.4" cy="477.4" r="2.95"/>
</g>
<rect x="521.80" y="446.60" width="15.60" height="4.70" fill="#4a4a4a" stroke="none" stroke-width="0"/>
<line x1="514.90" y1="449.00" x2="548.30" y2="449.00" stroke="#3c3c3c" stroke-width="1.6" />
<line x1="521.80" y1="446.60" x2="537.40" y2="446.60" stroke="#3c3c3c" stroke-width="1" />
<line x1="521.80" y1="451.30" x2="537.40" y2="451.30" stroke="#3c3c3c" stroke-width="1" />
<line x1="529.60" y1="446.60" x2="529.60" y2="451.30" stroke="#3c3c3c" stroke-width="1" />
<g fill="#ffffff" stroke="#000" stroke-width="0.75">
<circle cx="595.2" cy="462.8" r="2.95"/>
<circle cx="596.8" cy="446.1" r="2.95"/>
<circle cx="591.7" cy="433.3" r="2.95"/>
<circle cx="585.2" cy="412.3" r="2.95"/>
<circle cx="582.7" cy="425.8" r="2.95"/>
<circle cx="585.6" cy="451.9" r="2.95"/>
<circle cx="599.3" cy="468.3" r="2.95"/>
<circle cx="570.9" cy="436.5" r="2.95"/>
<circle cx="597.5" cy="440.1" r="2.95"/>
<circle cx="581.9" cy="448.3" r="2.95"/>
<circle cx="588.8" cy="477.1" r="2.95"/>
<circle cx="593.5" cy="476.7" r="2.95"/>
<circle cx="585.0" cy="374.0" r="2.95"/>
<circle cx="588.0" cy="422.8" r="2.95"/>
<circle cx="586.3" cy="417.7" r="2.95"/>
<circle cx="577.4" cy="474.5" r="2.95"/>
<circle cx="578.7" cy="456.9" r="2.95"/>
<circle cx="587.2" cy="389.8" r="2.95"/>
<circle cx="574.8" cy="464.7" r="2.95"/>
<circle cx="584.9" cy="457.0" r="2.95"/>
<circle cx="596.1" cy="473.0" r="2.95"/>
<circle cx="585.6" cy="401.5" r="2.95"/>
<circle cx="590.1" cy="438.3" r="2.95"/>
<circle cx="591.8" cy="417.4" r="2.95"/>
<circle cx="587.0" cy="377.0" r="2.95"/>
<circle cx="581.7" cy="468.2" r="2.95"/>
<circle cx="586.2" cy="357.6" r="2.95"/>
<circle cx="581.6" cy="433.3" r="2.95"/>
<circle cx="577.5" cy="425.0" r="2.95"/>
<circle cx="589.8" cy="458.2" r="2.95"/>
<circle cx="591.1" cy="446.9" r="2.95"/>
<circle cx="586.6" cy="398.0" r="2.95"/>
<circle cx="585.4" cy="388.0" r="2.95"/>
<circle cx="579.3" cy="419.8" r="2.95"/>
<circle cx="583.7" cy="437.4" r="2.95"/>
<circle cx="594.7" cy="468.0" r="2.95"/>
<circle cx="571.9" cy="432.1" r="2.95"/>
<circle cx="580.5" cy="452.6" r="2.95"/>
<circle cx="588.7" cy="481.6" r="2.95"/>
<circle cx="582.0" cy="416.0" r="2.95"/>
<circle cx="588.4" cy="409.5" r="2.95"/>
<circle cx="583.8" cy="481.5" r="2.95"/>
<circle cx="587.0" cy="444.9" r="2.95"/>
<circle cx="581.6" cy="476.5" r="2.95"/>
<circle cx="582.8" cy="441.9" r="2.95"/>
<circle cx="576.4" cy="469.8" r="2.95"/>
<circle cx="597.0" cy="428.3" r="2.95"/>
<circle cx="573.1" cy="441.3" r="2.95"/>
<circle cx="591.1" cy="472.3" r="2.95"/>
<circle cx="576.6" cy="444.9" r="2.95"/>
<circle cx="576.2" cy="430.3" r="2.95"/>
<circle cx="585.3" cy="472.1" r="2.95"/>
<circle cx="593.9" cy="425.1" r="2.95"/>
<circle cx="579.2" cy="437.9" r="2.95"/>
<circle cx="585.8" cy="462.0" r="2.95"/>
<circle cx="587.0" cy="434.3" r="2.95"/>
<circle cx="586.2" cy="368.6" r="2.95"/>
<circle cx="583.8" cy="407.5" r="2.95"/>
<circle cx="579.8" cy="463.6" r="2.95"/>
<circle cx="601.8" cy="437.1" r="2.95"/>
<circle cx="590.7" cy="452.0" r="2.95"/>
<circle cx="593.1" cy="442.7" r="2.95"/>
<circle cx="596.3" cy="432.8" r="2.95"/>
<circle cx="575.5" cy="435.1" r="2.95"/>
<circle cx="587.9" cy="428.8" r="2.95"/>
<circle cx="589.6" cy="466.5" r="2.95"/>
</g>
<rect x="579.00" y="433.80" width="16.60" height="6.40" fill="rgba(0,0,0,0.38)" stroke="none" stroke-width="0"/>
<line x1="571.90" y1="436.60" x2="603.90" y2="436.60" stroke="#000" stroke-width="1.6" />
<line x1="579.00" y1="433.80" x2="595.60" y2="433.80" stroke="#000" stroke-width="1" />
<line x1="579.00" y1="440.20" x2="595.60" y2="440.20" stroke="#000" stroke-width="1" />
<line x1="587.30" y1="433.80" x2="587.30" y2="440.20" stroke="#000" stroke-width="1" />
<g fill="#2aa0aa" stroke="#14474c" stroke-width="0.75">
<circle cx="639.7" cy="448.3" r="2.95"/>
<circle cx="642.5" cy="407.3" r="2.95"/>
<circle cx="643.0" cy="473.0" r="2.95"/>
<circle cx="642.4" cy="435.2" r="2.95"/>
<circle cx="647.2" cy="440.8" r="2.95"/>
<circle cx="648.1" cy="469.7" r="2.95"/>
<circle cx="643.6" cy="439.1" r="2.95"/>
<circle cx="651.7" cy="474.9" r="2.95"/>
<circle cx="639.3" cy="438.8" r="2.95"/>
<circle cx="635.4" cy="470.7" r="2.95"/>
<circle cx="649.4" cy="453.7" r="2.95"/>
<circle cx="627.7" cy="458.1" r="2.95"/>
<circle cx="629.6" cy="462.3" r="2.95"/>
<circle cx="644.3" cy="488.9" r="2.95"/>
<circle cx="646.9" cy="473.6" r="2.95"/>
<circle cx="634.5" cy="461.4" r="2.95"/>
<circle cx="642.6" cy="477.0" r="2.95"/>
<circle cx="642.7" cy="423.6" r="2.95"/>
<circle cx="634.5" cy="466.5" r="2.95"/>
<circle cx="635.4" cy="450.3" r="2.95"/>
<circle cx="649.0" cy="465.1" r="2.95"/>
<circle cx="644.8" cy="462.5" r="2.95"/>
<circle cx="641.9" cy="485.3" r="2.95"/>
<circle cx="653.6" cy="455.4" r="2.95"/>
<circle cx="643.0" cy="451.4" r="2.95"/>
<circle cx="640.2" cy="464.7" r="2.95"/>
<circle cx="645.3" cy="481.2" r="2.95"/>
<circle cx="631.8" cy="454.9" r="2.95"/>
<circle cx="655.4" cy="462.4" r="2.95"/>
<circle cx="639.6" cy="459.9" r="2.95"/>
<circle cx="648.8" cy="445.6" r="2.95"/>
<circle cx="641.2" cy="442.4" r="2.95"/>
<circle cx="657.6" cy="457.8" r="2.95"/>
<circle cx="645.2" cy="409.8" r="2.95"/>
<circle cx="638.0" cy="480.8" r="2.95"/>
<circle cx="639.1" cy="454.2" r="2.95"/>
<circle cx="650.6" cy="458.8" r="2.95"/>
<circle cx="644.4" cy="469.1" r="2.95"/>
<circle cx="642.7" cy="430.2" r="2.95"/>
<circle cx="645.1" cy="454.4" r="2.95"/>
<circle cx="640.1" cy="470.3" r="2.95"/>
<circle cx="641.7" cy="481.1" r="2.95"/>
<circle cx="647.1" cy="459.7" r="2.95"/>
<circle cx="632.5" cy="473.6" r="2.95"/>
<circle cx="637.7" cy="474.5" r="2.95"/>
<circle cx="636.9" cy="444.7" r="2.95"/>
<circle cx="634.3" cy="477.1" r="2.95"/>
<circle cx="653.1" cy="465.3" r="2.95"/>
<circle cx="651.7" cy="468.8" r="2.95"/>
<circle cx="635.8" cy="457.2" r="2.95"/>
<circle cx="644.7" cy="445.3" r="2.95"/>
<circle cx="649.6" cy="479.2" r="2.95"/>
<circle cx="643.7" cy="458.0" r="2.95"/>
<circle cx="647.3" cy="449.4" r="2.95"/>
<circle cx="640.7" cy="490.2" r="2.95"/>
<circle cx="640.0" cy="405.6" r="2.95"/>
<circle cx="631.5" cy="459.1" r="2.95"/>
</g>
<rect x="635.90" y="456.00" width="15.40" height="5.50" fill="rgba(0,0,0,0.45)" stroke="none" stroke-width="0"/>
<line x1="628.80" y1="458.40" x2="658.40" y2="458.40" stroke="#000" stroke-width="1.6" />
<line x1="635.90" y1="456.00" x2="651.30" y2="456.00" stroke="#000" stroke-width="1" />
<line x1="635.90" y1="461.50" x2="651.30" y2="461.50" stroke="#000" stroke-width="1" />
<line x1="643.60" y1="456.00" x2="643.60" y2="461.50" stroke="#000" stroke-width="1" />
<g fill="#1673ff" stroke="#1139c4" stroke-width="0.75">
<circle cx="702.2" cy="447.5" r="2.95"/>
<circle cx="694.3" cy="432.0" r="2.95"/>
<circle cx="709.1" cy="430.4" r="2.95"/>
<circle cx="686.2" cy="432.2" r="2.95"/>
<circle cx="703.4" cy="409.8" r="2.95"/>
<circle cx="703.6" cy="422.1" r="2.95"/>
<circle cx="708.8" cy="449.9" r="2.95"/>
<circle cx="689.4" cy="448.9" r="2.95"/>
<circle cx="699.4" cy="450.6" r="2.95"/>
<circle cx="699.1" cy="466.8" r="2.95"/>
<circle cx="700.6" cy="381.3" r="2.95"/>
<circle cx="692.3" cy="473.3" r="2.95"/>
<circle cx="709.5" cy="459.7" r="2.95"/>
<circle cx="706.8" cy="471.2" r="2.95"/>
<circle cx="700.9" cy="432.8" r="2.95"/>
<circle cx="699.2" cy="387.5" r="2.95"/>
<circle cx="699.0" cy="477.1" r="2.95"/>
<circle cx="708.0" cy="455.8" r="2.95"/>
<circle cx="702.6" cy="443.0" r="2.95"/>
<circle cx="695.0" cy="416.3" r="2.95"/>
<circle cx="690.9" cy="458.6" r="2.95"/>
<circle cx="696.8" cy="413.0" r="2.95"/>
<circle cx="707.0" cy="463.0" r="2.95"/>
<circle cx="711.6" cy="436.0" r="2.95"/>
<circle cx="700.4" cy="392.8" r="2.95"/>
<circle cx="692.6" cy="420.6" r="2.95"/>
<circle cx="690.3" cy="453.7" r="2.95"/>
<circle cx="707.3" cy="421.3" r="2.95"/>
<circle cx="690.3" cy="463.6" r="2.95"/>
<circle cx="706.8" cy="444.6" r="2.95"/>
<circle cx="698.0" cy="447.0" r="2.95"/>
<circle cx="696.8" cy="473.0" r="2.95"/>
<circle cx="710.1" cy="441.4" r="2.95"/>
<circle cx="694.3" cy="477.1" r="2.95"/>
<circle cx="705.8" cy="439.7" r="2.95"/>
<circle cx="696.9" cy="435.4" r="2.95"/>
<circle cx="700.1" cy="411.5" r="2.95"/>
<circle cx="702.7" cy="427.7" r="2.95"/>
<circle cx="699.8" cy="490.1" r="2.95"/>
<circle cx="703.2" cy="460.4" r="2.95"/>
<circle cx="704.3" cy="455.9" r="2.95"/>
<circle cx="706.7" cy="425.4" r="2.95"/>
<circle cx="699.8" cy="375.3" r="2.95"/>
<circle cx="689.9" cy="440.8" r="2.95"/>
<circle cx="702.2" cy="405.3" r="2.95"/>
<circle cx="701.6" cy="437.4" r="2.95"/>
<circle cx="700.4" cy="456.9" r="2.95"/>
<circle cx="689.4" cy="468.8" r="2.95"/>
<circle cx="705.3" cy="430.5" r="2.95"/>
<circle cx="694.8" cy="468.7" r="2.95"/>
<circle cx="690.4" cy="436.6" r="2.95"/>
<circle cx="687.7" cy="445.0" r="2.95"/>
<circle cx="714.7" cy="439.6" r="2.95"/>
<circle cx="701.5" cy="472.8" r="2.95"/>
<circle cx="701.0" cy="481.3" r="2.95"/>
<circle cx="704.5" cy="413.5" r="2.95"/>
<circle cx="698.3" cy="428.4" r="2.95"/>
<circle cx="714.3" cy="432.3" r="2.95"/>
<circle cx="684.9" cy="436.3" r="2.95"/>
<circle cx="699.6" cy="398.8" r="2.95"/>
<circle cx="694.7" cy="438.8" r="2.95"/>
<circle cx="699.1" cy="462.8" r="2.95"/>
<circle cx="698.3" cy="441.5" r="2.95"/>
<circle cx="709.1" cy="467.3" r="2.95"/>
<circle cx="710.2" cy="472.3" r="2.95"/>
<circle cx="686.2" cy="440.7" r="2.95"/>
<circle cx="699.1" cy="418.3" r="2.95"/>
<circle cx="694.6" cy="464.4" r="2.95"/>
<circle cx="695.9" cy="460.0" r="2.95"/>
<circle cx="699.1" cy="423.3" r="2.95"/>
<circle cx="702.8" cy="452.2" r="2.95"/>
<circle cx="700.9" cy="415.1" r="2.95"/>
<circle cx="712.0" cy="445.5" r="2.95"/>
<circle cx="694.3" cy="448.6" r="2.95"/>
<circle cx="704.1" cy="466.5" r="2.95"/>
<circle cx="705.4" cy="475.9" r="2.95"/>
<circle cx="705.4" cy="434.2" r="2.95"/>
<circle cx="696.4" cy="409.0" r="2.95"/>
<circle cx="694.4" cy="425.8" r="2.95"/>
<circle cx="692.8" cy="443.2" r="2.95"/>
<circle cx="697.8" cy="403.8" r="2.95"/>
<circle cx="706.2" cy="417.7" r="2.95"/>
<circle cx="694.5" cy="456.5" r="2.95"/>
<circle cx="696.9" cy="453.6" r="2.95"/>
<circle cx="690.0" cy="431.1" r="2.95"/>
</g>
<rect x="691.60" y="436.10" width="16.60" height="5.20" fill="rgba(0,0,0,0.45)" stroke="none" stroke-width="0"/>
<line x1="683.30" y1="438.30" x2="716.50" y2="438.30" stroke="#000" stroke-width="1.6" />
<line x1="691.60" y1="436.10" x2="708.20" y2="436.10" stroke="#000" stroke-width="1" />
<line x1="691.60" y1="441.30" x2="708.20" y2="441.30" stroke="#000" stroke-width="1" />
<line x1="699.90" y1="436.10" x2="699.90" y2="441.30" stroke="#000" stroke-width="1" />
<text x="478.00" y="541.00" font-size="11.7" text-anchor="middle" fill="#231f20" stroke="#231f20" >intact</text>
<text x="620.00" y="520.30" font-size="11.7" text-anchor="middle" fill="#231f20" stroke="#231f20" >adult cSTX</text>
<line x1="526.10" y1="532.20" x2="715.00" y2="532.20" stroke="#333" stroke-width="1" />
<text x="0.00" y="0.00" font-size="11.7" text-anchor="end" fill="#231f20" stroke="#231f20" transform="translate(510.8,553.3) rotate(-48)">no</text>
<text x="0.00" y="0.00" font-size="11.7" text-anchor="end" fill="#231f20" stroke="#231f20" transform="translate(534.8,544.5) rotate(-48)">intervention</text>
<text x="0.00" y="0.00" font-size="11.7" text-anchor="end" fill="#231f20" stroke="#231f20" transform="translate(602,541) rotate(-48)">training only</text>
<text x="0.00" y="0.00" font-size="11.7" text-anchor="end" fill="#231f20" stroke="#231f20" transform="translate(650,541) rotate(-48)"><tspan font-style="italic">sh</tspan>RNA only</text>
<text x="0.00" y="0.00" font-size="11.7" text-anchor="end" fill="#231f20" stroke="#231f20" transform="translate(706.6,541.4) rotate(-48)"><tspan font-style="italic">sh</tspan>RNA</text>
<text x="0.00" y="0.00" font-size="11.7" text-anchor="end" fill="#231f20" stroke="#231f20" transform="translate(719.9,545.8) rotate(-48)">+ training</text>
</g>
</svg>
</body></html>
